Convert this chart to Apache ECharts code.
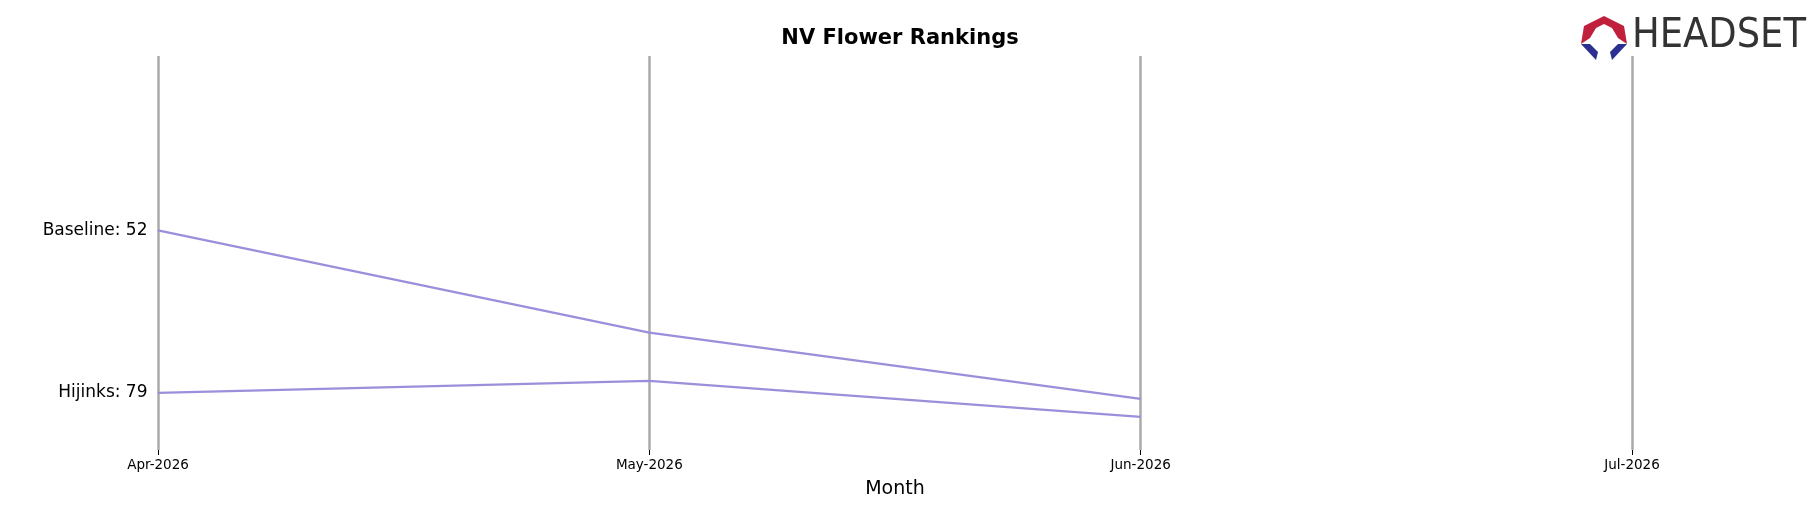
<!DOCTYPE html>
<html><head><meta charset="utf-8">
<script src="https://cdn.jsdelivr.net/npm/echarts@6/dist/echarts.min.js"></script>
<style>html,body{margin:0;padding:0;background:#fff}#c{width:1818px;height:506px}</style>
</head><body><div id="c"></div>
<script>
const months = ['Apr-2026','May-2026','Jun-2026','Jul-2026'];
const baseline = [52, 69, 80];
const hijinks = [79, 77, 83];
const names = ['Baseline','Hijinks'];
const chart = echarts.init(document.getElementById('c'));
const font = 'DejaVu Sans';
function mk(name, data){
  return {type:'line', name, data, symbol:'none', lineStyle:{color:'#9b8fdb', width:2.3},
    markPoint:{symbol:'circle', symbolSize:1, itemStyle:{color:'#9b8fdb'},
      label:{show:true, position:'left', distance:10, color:'#000', fontFamily:font, fontSize:17,
        formatter: name + ': ' + data[0]},
      data:[{coord:[0, data[0]]}]}};
}
chart.setOption({
  animation:false,
  title:{text:'NV Flower Rankings', left:895, textAlign:'center', top:23, textStyle:{fontFamily:font, fontWeight:'bold', fontSize:21, color:'#000'}},
  grid:{left:158, right:186, top:56, bottom:56},
  xAxis:{type:'category', data:months, boundaryGap:false, name:'Month', nameLocation:'middle', nameGap:30,
    nameTextStyle:{fontFamily:font, fontSize:19, color:'#000'},
    axisLine:{show:false}, axisTick:{show:true, length:5, lineStyle:{color:'#000'}},
    axisLabel:{fontFamily:font, fontSize:13.5, color:'#000', margin:8},
    splitLine:{show:true, lineStyle:{color:'#aaaaaa', width:2.5}}},
  yAxis:{type:'value', inverse:true, min:23, max:88.5, show:false, splitLine:{show:false}},
  series:[mk(names[0], baseline), mk(names[1], hijinks)],
  graphic:[
    {type:'polygon', shape:{points:[[1604,16],[1624,26],[1627,44],[1618,38],[1612,28],[1604,24],[1596,28],[1590,38],[1581,44],[1584,26]]}, style:{fill:'#c0203c'}},
    {type:'polygon', shape:{points:[[1581,44],[1590,44],[1598,52],[1596,60]]}, style:{fill:'#2b2f8f'}},
    {type:'polygon', shape:{points:[[1627,44],[1618,44],[1610,52],[1612,60]]}, style:{fill:'#2b2f8f'}},
    {type:'text', left:1632, top:16, style:{text:'HEADSET', fontFamily:'DejaVu Sans Condensed', fontSize:41, fill:'#333'}}
  ]
});
</script></body></html>
